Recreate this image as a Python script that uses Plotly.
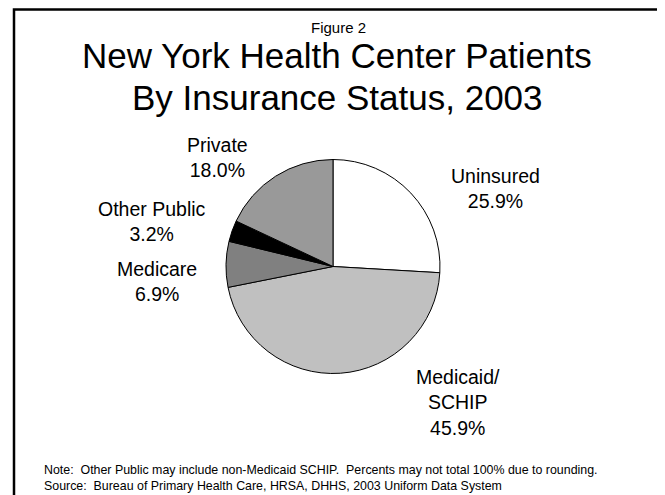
import plotly.graph_objects as go

categories = ["Uninsured", "Medicaid/<br>SCHIP", "Medicare", "Other Public", "Private"]
values = [25.9, 45.9, 6.9, 3.2, 18.0]
colors = ["#ffffff", "#c0c0c0", "#808080", "#000000", "#999999"]

# label anchor positions (page pixels) for the outside labels
label_x = [495, 458, 157, 152, 217]
label_y = [188.5, 402, 281, 221.5, 157.5]

W, H = 665, 495
OFF = 8  # default page body margin
FONT = "Arial, 'Liberation Sans', sans-serif"


def px(x):
    return (x - OFF) / W


def py(y):
    return 1 - (y - OFF) / H


fig = go.Figure()
fig.add_trace(go.Pie(
    labels=categories,
    values=values,
    sort=False,
    direction="clockwise",
    rotation=0,
    marker=dict(colors=colors, line=dict(color="#000000", width=1)),
    textinfo="none",
    hoverinfo="label+percent",
    showlegend=False,
    domain=dict(x=[px(226), px(440)], y=[py(373.5), py(159.5)]),
))

annotations = []
for lab, v, lx, ly in zip(categories, values, label_x, label_y):
    annotations.append(dict(
        x=px(lx), y=py(ly), xref="paper", yref="paper",
        text=f"{lab}<br>{v:.1f}%", showarrow=False, align="center",
        xanchor="center", yanchor="middle",
        font=dict(family=FONT, size=19.5, color="#000000"),
    ))

annotations.append(dict(x=px(338), y=py(27), xref="paper", yref="paper",
                        text="Figure 2", showarrow=False, xanchor="center", yanchor="middle",
                        font=dict(family=FONT, size=15, color="#000")))
annotations.append(dict(x=px(337), y=py(56), xref="paper", yref="paper",
                        text="New York Health Center Patients",
                        showarrow=False, xanchor="center", yanchor="middle",
                        font=dict(family=FONT, size=35, color="#000")))
annotations.append(dict(x=px(337), y=py(97), xref="paper", yref="paper",
                        text="By Insurance Status, 2003",
                        showarrow=False, xanchor="center", yanchor="middle",
                        font=dict(family=FONT, size=35, color="#000")))
annotations.append(dict(x=px(42), y=py(478), xref="paper", yref="paper",
                        text="Note:  Other Public may include non-Medicaid SCHIP.  Percents may not total 100% due to rounding.<br>"
                             "Source:  Bureau of Primary Health Care, HRSA, DHHS, 2003 Uniform Data System",
                        showarrow=False, xanchor="left", yanchor="middle", align="left",
                        font=dict(family=FONT, size=12.4, color="#000")))

fig.update_layout(
    width=W, height=H,
    margin=dict(l=0, r=0, t=0, b=0),
    paper_bgcolor="#ffffff",
    plot_bgcolor="#ffffff",
    annotations=annotations,
    shapes=[dict(type="rect", xref="paper", yref="paper",
                 x0=px(14), x1=px(661), y0=-0.05, y1=py(9.5),
                 line=dict(color="#000", width=2.5))],
)

fig.write_html("out.html")
